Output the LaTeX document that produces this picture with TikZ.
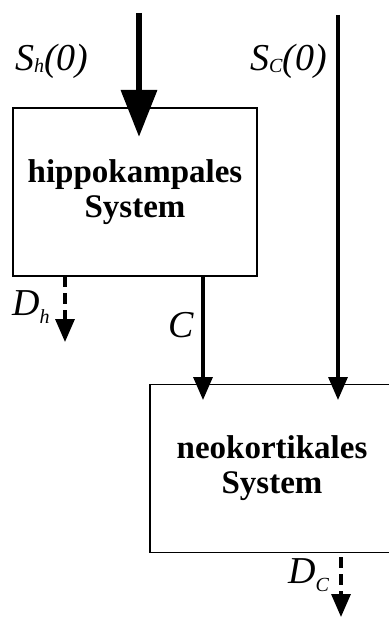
\documentclass[tikz,border=0pt]{standalone}
\usepackage{fontspec}
\setmainfont{Liberation Serif}
\usetikzlibrary{arrows.meta}
\newcommand{\lowsub}[2]{\raisebox{-#1pt}{\fontsize{20}{20}\selectfont #2}}

\begin{document}
\begin{tikzpicture}[x=1pt,y=-1pt,
  sys/.style={draw,line width=1.5pt,minimum width=244pt,minimum height=168pt,
    inner sep=0pt,align=center,font=\fontsize{33}{35}\selectfont\bfseries},
  flow/.style={line width=3.3pt,-{Triangle[length=23pt,width=19pt]}},
  loss/.style={flow,dash pattern=on 11pt off 6pt},
  lab/.style={font=\fontsize{38}{38}\selectfont\itshape,inner sep=0pt,anchor=base west}]
  \useasboundingbox (0,0) rectangle (388,617);
  % the two systems
  \node[sys] (hippo) at (135,192) {hippokampales\\System};
  \node[sys] (neo) at (272,468.5) {neokortikales\\System};
  % end points of the connectors
  \coordinate (inh) at (139,13);   \coordinate (tiph) at (139,137);
  \coordinate (inc) at (338,15);   \coordinate (tipc) at (338,400);
  \coordinate (outc) at (203,276); \coordinate (tipo) at (203,400);
  \coordinate (outh) at (65,276);  \coordinate (endh) at (65,342);
  \coordinate (outn) at (341,557); \coordinate (endn) at (341,617);
  % inputs
  \draw[line width=6.5pt,-{Triangle[length=47pt,width=35pt]}] (inh) -- (tiph);
  \draw[flow] (inc) -- (tipc);
  % consolidation and decay
  \draw[flow] (outc) -- (tipo);
  \draw[loss] (outh) -- (endh);
  \draw[loss] (outn) -- (endn);
  % labels
  \node[lab] (lsh) at (15,71) {S\lowsub{2}{h}(0)};
  \node[lab] (lsc) at (250,71) {S\lowsub{2}{C}(0)};
  \node[lab] (ldh) at (12,315) {D\lowsub{8}{h}};
  \node[lab] (lc) at (168,337) {C};
  \node[lab] (ldc) at (288,583) {D\lowsub{8}{C}};
\end{tikzpicture}
\end{document}
